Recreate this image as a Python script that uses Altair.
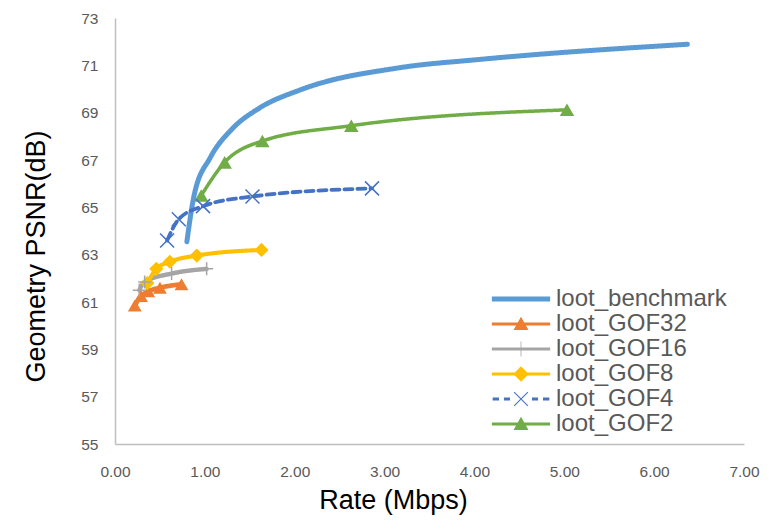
import altair as alt
import pandas as pd

series_names = ["loot_benchmark", "loot_GOF32", "loot_GOF16", "loot_GOF8", "loot_GOF4", "loot_GOF2"]
series_colors = ["#5B9BD5", "#ED7D31", "#A5A5A5", "#FFC000", "#4472C4", "#70AD47"]

benchmark_rate = [0.80, 0.88, 1.06, 1.30, 1.61, 2.06, 3.17, 4.06, 6.37]
benchmark_psnr = [63.55, 65.5, 67.1, 68.3, 69.2, 69.96, 70.9, 71.25, 71.89]
gof32_rate = [0.22, 0.29, 0.37, 0.50, 0.74]
gof32_psnr = [60.85, 61.25, 61.45, 61.6, 61.75]
gof16_rate = [0.27, 0.33, 0.63, 1.02]
gof16_psnr = [61.5, 61.85, 62.2, 62.4]
gof8_rate = [0.36, 0.46, 0.61, 0.91, 1.63]
gof8_psnr = [61.8, 62.4, 62.7, 62.96, 63.2]
gof4_rate = [0.58, 0.71, 0.98, 1.53, 2.86]
gof4_psnr = [63.6, 64.5, 65.05, 65.46, 65.8]
gof2_rate = [0.96, 1.22, 1.64, 2.63, 5.03]
gof2_psnr = [65.5, 66.9, 67.8, 68.45, 69.12]

x_ticks = [0, 1, 2, 3, 4, 5, 6, 7]
y_ticks = [55, 57, 59, 61, 63, 65, 67, 69, 71, 73]

rates = [benchmark_rate, gof32_rate, gof16_rate, gof8_rate, gof4_rate, gof2_rate]
psnrs = [benchmark_psnr, gof32_psnr, gof16_psnr, gof8_psnr, gof4_psnr, gof2_psnr]
rows = []
for name, rr, pp in zip(series_names, rates, psnrs):
    for r, p in zip(rr, pp):
        rows.append({"series": name, "rate": r, "psnr": p})
df = pd.DataFrame(rows)

x_enc = alt.X("rate:Q", scale=alt.Scale(domain=[0, 7], nice=False, zero=False),
              axis=alt.Axis(values=x_ticks, format=".2f", title="Rate (Mbps)",
                            labelPadding=20, titlePadding=8, titleX=278, labelFlush=False))
y_enc = alt.Y("psnr:Q", scale=alt.Scale(domain=[55, 73], nice=False, zero=False),
              axis=alt.Axis(values=y_ticks, format="d", title="Geometry PSNR(dB)",
                            labelPadding=17, titlePadding=30, titleY=238, labelFlush=False))

color_nolegend = alt.Color("series:N", scale=alt.Scale(domain=series_names, range=series_colors), legend=None)

lines = alt.Chart(df).mark_line(interpolate="monotone", strokeCap="round").encode(
    x=x_enc, y=y_enc,
    color=color_nolegend,
    strokeWidth=alt.StrokeWidth("series:N", scale=alt.Scale(domain=series_names, range=[5, 3.5, 3.5, 3.5, 3.5, 3.5]), legend=None),
    strokeDash=alt.StrokeDash("series:N", scale=alt.Scale(domain=series_names, range=[[1, 0], [1, 0], [1, 0], [1, 0], [8, 5], [1, 0]]), legend=None),
)

filled_names = ["loot_GOF32", "loot_GOF8", "loot_GOF2"]
filled_pts = alt.Chart(df).transform_filter(
    alt.FieldOneOfPredicate(field="series", oneOf=filled_names)
).mark_point(filled=True, opacity=1, strokeWidth=0).encode(
    x=x_enc, y=y_enc,
    color=color_nolegend,
    shape=alt.Shape("series:N", scale=alt.Scale(domain=filled_names, range=["triangle-up", "diamond", "triangle-up"]), legend=None),
    size=alt.Size("series:N", scale=alt.Scale(domain=filled_names, range=[190, 210, 190]), legend=None),
)

stroked_names = ["loot_GOF16", "loot_GOF4"]
stroked_pts = alt.Chart(df).transform_filter(
    alt.FieldOneOfPredicate(field="series", oneOf=stroked_names)
).mark_point(filled=False, opacity=1, strokeWidth=1.5).encode(
    x=x_enc, y=y_enc,
    color=color_nolegend,
    shape=alt.Shape("series:N", scale=alt.Scale(domain=stroked_names, range=["M-1,0H1M0,-1V1", "M-1,-1L1,1M-1,1L1,-1"]), legend=None),
    size=alt.Size("series:N", scale=alt.Scale(domain=stroked_names, range=[169, 196]), legend=None),
)

# legend symbols: line + marker glyphs
line_thin = "M-5.3,-0.29H5.3V0.29H-5.3Z"
tri = "M0,-1.3L1.36,1.1L-1.36,1.1Z"
legend_shapes = [
    "M-5.3,-0.44H5.3V0.44H-5.3Z",
    line_thin + tri,
    line_thin + "M-0.07,-1.36H0.07V1.36H-0.07Z",
    line_thin + "M0,-1.4L1.4,0L0,1.4L-1.4,0Z",
    "M-5.15,-0.28H-4V0.28H-5.15Z M-3.1,-0.28H-2V0.28H-3.1Z M2,-0.28H3.1V0.28H2Z M4,-0.28H5.15V0.28H4Z"
    " M-1.18,-1.32L1.32,1.18L1.18,1.32L-1.32,-1.18Z M-1.32,1.18L1.18,-1.32L1.32,-1.18L-1.18,1.32Z",
    line_thin + tri,
]

legend_props = dict(title=None, orient="none", legendX=394, legendY=269,
                    symbolSize=121, symbolStrokeWidth=0, symbolOpacity=1,
                    labelOffset=23, labelFontSize=24, labelColor="#595959", labelLimit=300,
                    labelFont="Liberation Sans", rowPadding=1, padding=0)

legend_layer = alt.Chart(df).transform_filter("false").mark_point(
    filled=True, opacity=1, strokeWidth=0, size=121
).encode(
    x=x_enc, y=y_enc,
    color=alt.Color("series:N", scale=alt.Scale(domain=series_names, range=series_colors),
                    legend=alt.Legend(**legend_props)),
    shape=alt.Shape("series:N", scale=alt.Scale(domain=series_names, range=legend_shapes),
                    legend=alt.Legend(**legend_props)),
)

chart = alt.layer(lines, filled_pts, stroked_pts, legend_layer).resolve_scale(
    color="independent", shape="independent", size="independent"
).properties(
    width=629, height=426,
    autosize=alt.AutoSizeParams(type="none"),
    padding={"left": 107, "top": 10, "right": 17, "bottom": 71},
).configure_view(stroke=None).configure_axis(
    grid=False, ticks=False, tickSize=0,
    domainColor="#BFBFBF", domainWidth=1.5,
    labelFont="Liberation Sans", labelFontSize=15.5, labelColor="#595959",
    titleFont="Liberation Sans", titleFontSize=27, titleFontWeight="normal", titleColor="#000000",
)

chart.save("out.html", embed_options={"renderer": "svg", "actions": False})
